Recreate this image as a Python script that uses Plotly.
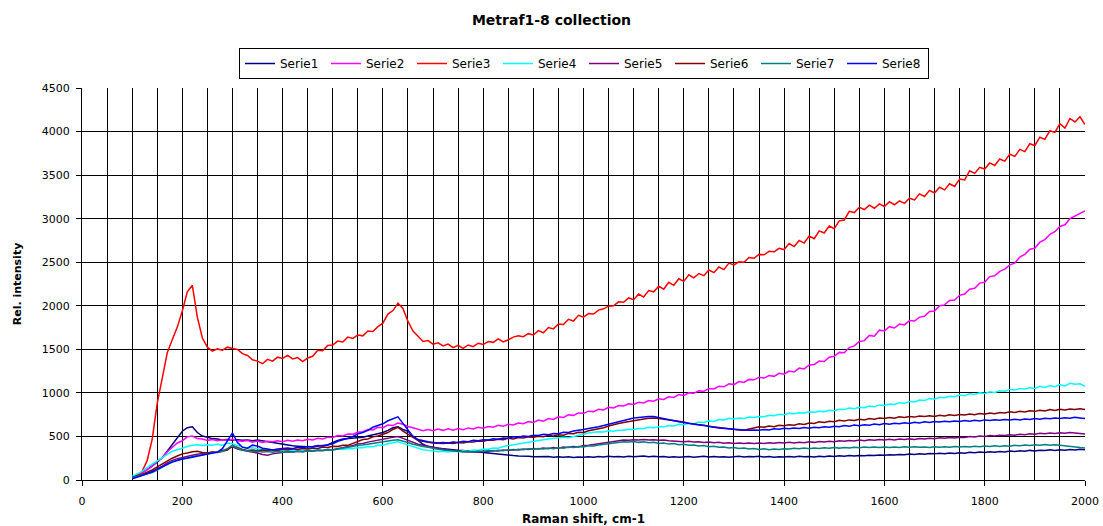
import plotly.graph_objects as go

raman_shift = list(range(100, 2001, 10))

serie1 = [
    35, 60, 85, 120, 160, 205, 255, 330, 410, 490,
    560, 600, 610, 545, 505, 490, 475, 470, 460, 465,
    455, 462, 455, 460, 452, 458, 448, 442, 432, 420,
    408, 400, 392, 388, 384, 382, 385, 390, 395, 402,
    430, 455, 470, 475, 472, 478, 490, 505, 520, 530,
    545, 570, 600, 612, 580, 560, 500, 455, 410, 385,
    372, 365, 360, 352, 348, 342, 338, 330, 325, 320,
    315, 308, 302, 298, 290, 286, 280, 276, 270, 272,
    268, 270, 265, 270, 262, 268, 260, 266, 258, 265,
    262, 268, 262, 270, 264, 272, 266, 270, 264, 272,
    266, 270, 275, 268, 272, 266, 270, 262, 268, 262,
    266, 270, 262, 268, 272, 265, 270, 264, 268, 262,
    268, 272, 265, 270, 266, 272, 265, 270, 262, 268,
    264, 270, 265, 272, 266, 270, 264, 272, 268, 275,
    270, 278, 272, 280, 275, 282, 278, 285, 280, 288,
    284, 290, 286, 294, 290, 298, 292, 300, 296, 305,
    300, 308, 302, 310, 305, 314, 308, 318, 312, 320,
    315, 324, 318, 328, 322, 332, 326, 336, 330, 340,
    334, 342, 338, 346, 340, 348, 342, 350, 344, 352,
    346,
]

serie2 = [
    25, 55, 80, 120, 155, 215, 255, 325, 370, 425,
    450, 495, 505, 475, 470, 455, 465, 450, 462, 455,
    468, 450, 445, 452, 435, 448, 432, 445, 438, 450,
    440, 455, 445, 460, 452, 468, 460, 478, 470, 492,
    488, 510, 505, 528, 525, 548, 555, 580, 575, 605,
    600, 630, 625, 655, 640, 615, 600, 585, 565, 580,
    565, 585, 570, 588, 572, 590, 578, 598, 585, 605,
    595, 615, 605, 628, 618, 640, 632, 655, 645, 670,
    660, 688, 675, 705, 695, 725, 718, 748, 742, 770,
    765, 790, 785, 812, 805, 835, 828, 855, 850, 875,
    868, 892, 885, 912, 905, 932, 925, 955, 948, 980,
    970, 1000, 995, 1025, 1018, 1050, 1045, 1075, 1070, 1105,
    1095, 1130, 1120, 1155, 1150, 1180, 1170, 1200, 1190, 1225,
    1215, 1250, 1240, 1285, 1275, 1320, 1325, 1365, 1360, 1410,
    1420, 1465, 1460, 1520, 1540, 1590, 1600, 1660, 1650, 1720,
    1710, 1760, 1745, 1790, 1780, 1830, 1825, 1870, 1880, 1935,
    1940, 2000, 2010, 2060, 2065, 2120, 2135, 2190, 2200, 2260,
    2270, 2335, 2345, 2395, 2420, 2470, 2490, 2560, 2590, 2650,
    2660, 2730, 2760, 2820, 2850, 2910, 2930, 3000, 3030, 3060,
    3090,
]

serie3 = [
    30, 55, 100, 225, 470, 880, 1170, 1460, 1610, 1755,
    1940, 2160, 2235, 1870, 1630, 1525, 1480, 1505, 1490, 1525,
    1510, 1500, 1450, 1430, 1380, 1365, 1335, 1385, 1365, 1410,
    1395, 1430, 1390, 1405, 1360, 1400, 1420, 1490, 1485, 1545,
    1550, 1595, 1585, 1640, 1625, 1665, 1655, 1710, 1705, 1760,
    1800, 1905, 1945, 2030, 1970, 1820, 1710, 1650, 1590, 1600,
    1560, 1575, 1540, 1560, 1520, 1545, 1510, 1550, 1530, 1570,
    1555, 1590, 1580, 1620, 1585, 1610, 1640, 1655, 1645, 1680,
    1665, 1715, 1690, 1750, 1735, 1790, 1785, 1845, 1825, 1890,
    1870, 1910, 1905, 1950, 1965, 1995, 2000, 2045, 2040, 2090,
    2070, 2135, 2100, 2175, 2160, 2225, 2190, 2270, 2235, 2310,
    2280, 2355, 2320, 2370, 2345, 2410, 2380, 2445, 2415, 2490,
    2470, 2505, 2500, 2555, 2545, 2590, 2585, 2625, 2620, 2660,
    2645, 2715, 2680, 2750, 2720, 2800, 2770, 2860, 2835, 2915,
    2885, 2975, 2985, 3085, 3070, 3130, 3105, 3155, 3120, 3170,
    3140, 3195, 3160, 3205, 3175, 3235, 3215, 3285, 3255, 3325,
    3295, 3360, 3330, 3400, 3370, 3455, 3445, 3550, 3520, 3590,
    3570, 3640, 3610, 3685, 3660, 3740, 3715, 3795, 3770, 3860,
    3840, 3935, 3910, 4010, 3990, 4090, 4040, 4150, 4110, 4170,
    4080,
]

serie4 = [
    40, 70, 100, 145, 185, 225, 260, 295, 330, 345,
    365, 385, 400, 405, 395, 405, 398, 410, 400, 425,
    415, 395, 378, 365, 370, 355, 348, 352, 340, 350,
    342, 348, 338, 350, 340, 346, 338, 352, 342, 350,
    345, 355, 350, 362, 358, 372, 370, 385, 382, 398,
    400, 415, 430, 440, 420, 400, 385, 360, 348, 340,
    335, 325, 330, 322, 330, 325, 335, 330, 345, 340,
    355, 352, 368, 365, 385, 395, 410, 420, 430, 440,
    450, 455, 462, 470, 475, 480, 490, 485, 500, 510,
    525, 540, 548, 555, 552, 565, 560, 572, 570, 582,
    580, 592, 590, 605, 600, 612, 610, 625, 620, 640,
    635, 650, 645, 665, 660, 680, 672, 695, 690, 708,
    700, 712, 705, 722, 718, 730, 725, 742, 738, 755,
    748, 765, 760, 772, 768, 782, 778, 790, 785, 800,
    795, 812, 808, 825, 818, 835, 830, 848, 842, 862,
    855, 872, 868, 888, 880, 902, 895, 918, 912, 935,
    928, 950, 945, 962, 955, 975, 968, 990, 982, 1000,
    992, 1012, 1005, 1025, 1018, 1040, 1032, 1050, 1045, 1060,
    1050, 1075, 1062, 1085, 1072, 1095, 1080, 1110, 1100, 1105,
    1075,
]

serie5 = [
    25, 40, 55, 75, 95, 125, 160, 195, 225, 245,
    260, 270, 285, 295, 305, 310, 318, 322, 335, 355,
    380, 355, 340, 330, 325, 310, 292, 285, 300, 310,
    318, 325, 322, 330, 325, 335, 330, 342, 338, 350,
    348, 360, 365, 380, 395, 415, 420, 435, 445, 455,
    462, 478, 492, 500, 478, 455, 430, 410, 400, 388,
    375, 365, 355, 345, 340, 330, 325, 320, 325, 318,
    330, 325, 338, 332, 345, 340, 350, 345, 355, 350,
    362, 356, 368, 360, 372, 365, 378, 372, 385, 380,
    395, 400, 408, 418, 428, 435, 445, 452, 460, 455,
    462, 458, 465, 458, 462, 455, 460, 452, 448, 445,
    440, 445, 435, 440, 430, 436, 428, 432, 422, 428,
    420, 425, 418, 424, 418, 425, 420, 428, 422, 430,
    424, 432, 425, 434, 428, 438, 432, 442, 436, 446,
    440, 450, 444, 454, 448, 458, 452, 462, 455, 465,
    458, 468, 460, 470, 464, 472, 466, 476, 470, 480,
    474, 484, 478, 488, 482, 492, 488, 498, 494, 504,
    500, 510, 505, 515, 510, 520, 515, 525, 520, 530,
    526, 536, 530, 540, 534, 542, 536, 545, 538, 535,
    528,
]

serie6 = [
    30, 45, 65, 90, 115, 150, 185, 215, 250, 275,
    300, 310, 325, 330, 315, 310, 320, 315, 330, 345,
    395, 375, 350, 340, 345, 335, 345, 338, 348, 340,
    352, 345, 358, 350, 362, 355, 368, 362, 378, 372,
    388, 385, 400, 398, 420, 440, 465, 470, 495, 505,
    525, 545, 580, 605, 560, 520, 490, 455, 440, 432,
    425, 420, 418, 425, 420, 430, 425, 438, 435, 448,
    445, 458, 455, 468, 462, 478, 472, 488, 482, 495,
    490, 502, 496, 512, 505, 520, 515, 535, 530, 548,
    545, 565, 575, 590, 600, 620, 630, 648, 660, 672,
    680, 692, 700, 708, 712, 705, 698, 690, 680, 672,
    665, 650, 645, 635, 630, 618, 610, 600, 595, 585,
    580, 575, 572, 585, 598, 612, 605, 620, 612, 628,
    622, 635, 628, 645, 638, 655, 648, 668, 660, 675,
    670, 685, 678, 690, 684, 698, 690, 705, 698, 712,
    705, 718, 710, 725, 718, 730, 722, 735, 728, 738,
    730, 742, 735, 748, 740, 752, 745, 758, 750, 762,
    755, 768, 760, 775, 768, 782, 775, 790, 782, 795,
    788, 800, 792, 808, 798, 812, 805, 815, 808, 818,
    810,
]

serie7 = [
    25, 38, 52, 68, 85, 115, 150, 180, 210, 230,
    245, 258, 270, 282, 290, 300, 310, 318, 330, 360,
    400, 365, 345, 335, 328, 330, 322, 328, 320, 326,
    320, 328, 322, 330, 325, 335, 330, 340, 336, 348,
    345, 355, 362, 375, 385, 398, 402, 412, 420, 430,
    435, 445, 455, 462, 450, 430, 410, 395, 385, 375,
    362, 352, 345, 340, 332, 335, 325, 330, 322, 332,
    326, 338, 332, 342, 336, 348, 342, 352, 346, 358,
    352, 362, 356, 368, 360, 372, 365, 378, 372, 385,
    380, 392, 390, 402, 410, 418, 425, 432, 440, 435,
    442, 432, 438, 428, 432, 420, 425, 412, 418, 405,
    410, 398, 402, 390, 395, 382, 388, 375, 380, 368,
    372, 362, 368, 355, 362, 350, 358, 348, 356, 350,
    360, 355, 365, 358, 368, 360, 368, 362, 370, 364,
    372, 366, 374, 368, 376, 370, 378, 372, 378, 372,
    380, 374, 380, 374, 382, 376, 382, 375, 380, 374,
    382, 376, 383, 377, 384, 378, 385, 380, 387, 382,
    390, 384, 392, 386, 394, 388, 398, 392, 402, 396,
    405, 398, 408, 400, 405, 398, 390, 385, 380, 372,
    368,
]

serie8 = [
    15, 30, 50, 75, 95, 125, 155, 180, 205, 225,
    240, 250, 262, 275, 285, 292, 305, 320, 360, 450,
    540, 430, 375, 365, 400, 390, 365, 355, 345, 355,
    360, 368, 360, 375, 370, 385, 380, 395, 390, 405,
    415, 445, 460, 480, 500, 530, 545, 570, 605, 625,
    645, 680, 705, 725, 650, 570, 500, 465, 450, 440,
    432, 425, 430, 425, 435, 430, 445, 440, 455, 450,
    462, 458, 472, 468, 482, 478, 495, 490, 505, 500,
    515, 510, 525, 520, 535, 530, 548, 545, 562, 568,
    580, 590, 598, 612, 625, 640, 655, 668, 690, 700,
    712, 718, 725, 730, 728, 715, 705, 690, 675, 668,
    660, 648, 640, 632, 625, 612, 605, 598, 595, 588,
    585, 578, 575, 570, 575, 570, 580, 575, 588, 582,
    595, 588, 598, 592, 602, 595, 605, 600, 612, 605,
    618, 612, 625, 618, 630, 622, 635, 628, 642, 635,
    648, 640, 652, 645, 658, 650, 662, 655, 668, 660,
    672, 665, 675, 668, 678, 672, 682, 675, 685, 678,
    690, 682, 692, 685, 695, 688, 698, 690, 700, 695,
    705, 698, 708, 702, 712, 705, 715, 708, 720, 712,
    705,
]

series_names = ["Serie1", "Serie2", "Serie3", "Serie4", "Serie5", "Serie6", "Serie7", "Serie8"]
series_values = [serie1, serie2, serie3, serie4, serie5, serie6, serie7, serie8]
series_colors = ["#000080", "#FF00FF", "#FF0000", "#00FFFF", "#800080", "#800000", "#008080", "#0000FF"]

for n, v in zip(series_names, series_values):
    if len(v) != len(raman_shift):
        raise ValueError(f"{n} has {len(v)} values, expected {len(raman_shift)}")

FONT = "DejaVu Sans"

fig = go.Figure()
for name, vals, col in zip(series_names, series_values, series_colors):
    fig.add_trace(go.Scatter(
        x=raman_shift, y=vals, mode="lines", name=name,
        line=dict(color=col, width=1.5),
    ))

fig.update_layout(
    width=1103, height=526,
    margin=dict(l=82, r=18, t=88, b=46, autoexpand=False),
    paper_bgcolor="white", plot_bgcolor="white",
    font=dict(family=FONT, size=11, color="black"),
    title=dict(
        text="Metraf1-8 collection",
        font=dict(family=FONT, size=14, color="black", weight="bold"),
        x=0.5, xanchor="center", xref="container",
        y=1 - 20 / 526, yref="container", yanchor="middle",
    ),
    showlegend=True,
    legend=dict(
        orientation="h",
        x=584 / 1103, xref="container", xanchor="center",
        y=1 - 48 / 526, yref="container", yanchor="top",
        bordercolor="black", borderwidth=1, bgcolor="white",
        font=dict(family=FONT, size=12, color="black"),
        itemwidth=30,
        entrywidth=41, entrywidthmode="pixels",
        tracegroupgap=0,
    ),
    xaxis=dict(
        range=[0, 2000], tick0=0, dtick=200,
        showgrid=True, gridcolor="black", gridwidth=1,
        minor=dict(dtick=50, showgrid=True, gridcolor="black", gridwidth=1),
        ticks="outside", ticklen=5, tickcolor="black",
        ticklabelstandoff=6,
        showline=True, linecolor="black", linewidth=1,
        zeroline=False, automargin=False,
        tickfont=dict(family=FONT, size=11, color="black"),
        title=dict(text="Raman shift, cm-1", standoff=8,
                   font=dict(family=FONT, size=12, color="black", weight="bold")),
    ),
    yaxis=dict(
        range=[0, 4500], tick0=0, dtick=500,
        showgrid=True, gridcolor="black", gridwidth=1,
        ticks="outside", ticklen=5, tickcolor="black",
        ticklabelstandoff=4,
        showline=True, linecolor="black", linewidth=1,
        zeroline=False, automargin=False,
        tickfont=dict(family=FONT, size=11, color="black"),
        title=dict(text="Rel. intensity", standoff=17,
                   font=dict(family=FONT, size=11, color="black", weight="bold")),
    ),
)

fig.write_html(
    "out.html",
    config={"displayModeBar": False},
    post_script="document.body.style.margin='0';document.body.style.overflow='hidden';",
)
